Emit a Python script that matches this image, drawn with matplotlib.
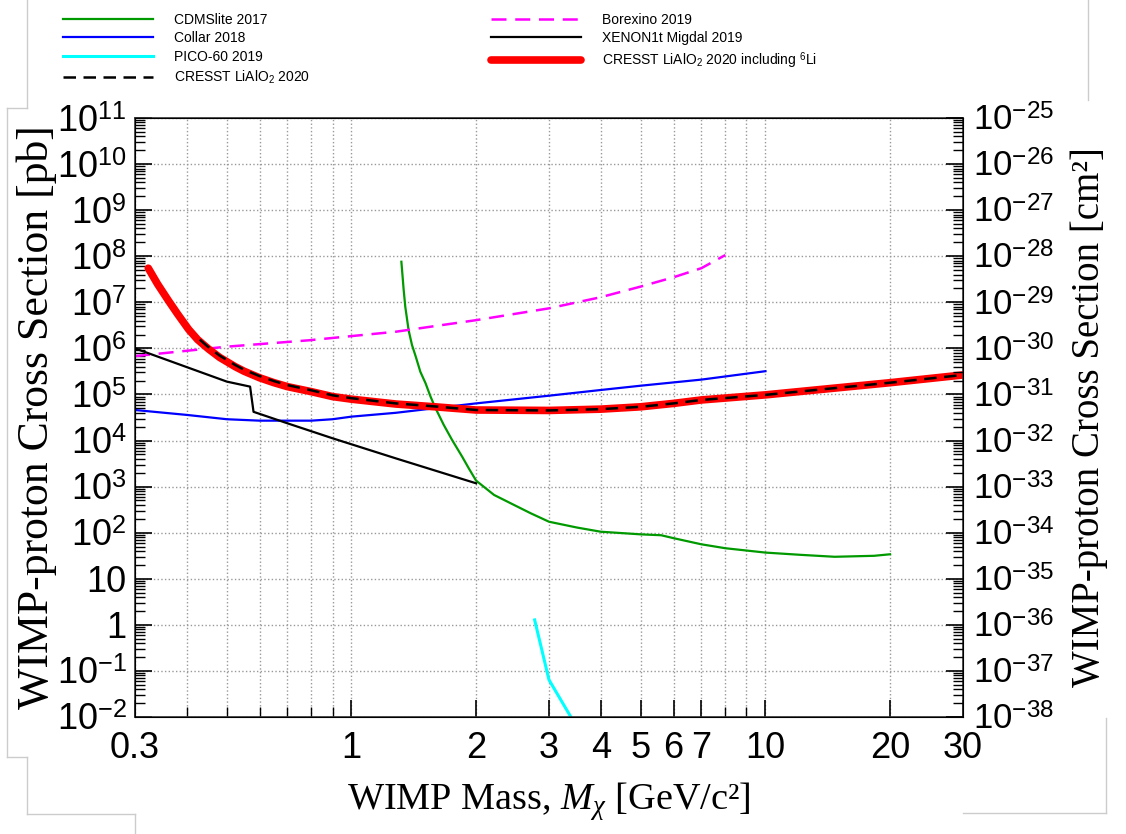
import numpy as np
import matplotlib
matplotlib.use("Agg")
import matplotlib.pyplot as plt
from matplotlib.ticker import FixedLocator, NullFormatter, FuncFormatter
from matplotlib.lines import Line2D

plt.rcParams['font.family'] = ['Liberation Sans', 'DejaVu Sans']
plt.rcParams['mathtext.fontset'] = 'custom'
plt.rcParams['mathtext.rm'] = 'Liberation Sans'
plt.rcParams['mathtext.it'] = 'Liberation Serif:italic'

# WIMP mass [GeV/c^2] and cross section [pb]
cresst_li_x = [0.323, 0.34, 0.361, 0.38, 0.404, 0.425, 0.451, 0.48, 0.524, 0.55, 0.6, 0.65,
               0.7, 0.8, 0.9, 1.0, 1.28, 1.59, 2, 3, 4, 5, 6, 7, 10, 20, 30]
cresst_li_y = [5.5e7, 2.5e7, 1.1e7, 5.6e6, 2.6e6, 1.55e6, 9.8e5, 6.4e5, 4.0e5, 3.2e5, 2.3e5,
               1.8e5, 1.48e5, 1.15e5, 9.0e4, 7.9e4, 6.2e4, 5.4e4, 4.6e4, 4.5e4, 4.8e4, 5.4e4,
               6.4e4, 7.6e4, 9.8e4, 1.8e5, 2.65e5]

cresst_x = [0.43, 0.451, 0.48, 0.524, 0.55, 0.6, 0.65, 0.7, 0.8, 0.9, 1.0, 1.28, 1.59,
            2, 3, 4, 5, 6, 7, 10, 20, 30]
cresst_y = [1.55e6, 1.07e6, 7.0e5, 4.35e5, 3.45e5, 2.5e5, 1.95e5, 1.6e5, 1.23e5, 9.6e4,
            8.3e4, 6.4e4, 5.5e4, 4.6e4, 4.5e4, 4.8e4, 5.4e4, 6.4e4, 7.6e4, 9.8e4, 1.8e5, 2.65e5]

borexino_x = [0.3, 0.5, 0.79, 1.28, 2, 3, 4, 5, 6, 7, 8]
borexino_y = [6.8e5, 1.09e6, 1.5e6, 2.3e6, 4.1e6, 7.4e6, 1.29e7, 2.2e7, 3.5e7, 5.5e7, 1.06e8]

xenon_x = [0.3, 0.5, 0.569, 0.58, 0.7, 0.9, 1.28, 2]
xenon_y = [1.0e6, 1.9e5, 1.48e5, 4.2e4, 2.37e4, 1.12e4, 4.1e3, 1.18e3]

collar_x = [0.3, 0.4, 0.5, 0.6, 0.8, 0.9, 1.0, 1.28, 2, 3, 4, 5, 7, 10]
collar_y = [4.6e4, 3.6e4, 2.9e4, 2.7e4, 2.7e4, 2.9e4, 3.3e4, 4.0e4, 6.4e4, 9.4e4,
            1.25e5, 1.55e5, 2.1e5, 3.2e5]

cdms_x = [1.32, 1.337, 1.349, 1.374, 1.40, 1.43, 1.467, 1.51, 1.55, 1.59, 1.67, 1.75, 1.85,
          1.92, 2, 2.21, 2.47, 2.71, 3, 3.51, 4, 5, 5.6, 6, 7, 8, 9, 10,
          12.2, 14.7, 18.3, 20]
cdms_y = [7.6e7, 1.85e7, 8.0e6, 2.5e6, 1.19e6, 6.6e5, 3.1e5, 1.75e5, 9.3e4, 5.4e4, 2.2e4,
          1.03e4, 4.5e3, 2.5e3, 1.35e3, 660, 400, 264, 173, 129, 105, 92, 88, 76, 56, 46,
          41, 37, 33, 30, 31.5, 34]

pico_x = [2.77, 3.0, 3.4]
pico_y = [1.28, 0.064, 0.0095]

xtick_vals = [0.3, 1, 2, 3, 4, 5, 6, 7, 10, 20, 30]
xtick_labels = ['0.3', '1', '2', '3', '4', '5', '6', '7', '10', '20', '30']
pb_to_cm2 = 1e-36

fig = plt.figure(figsize=(11.26, 8.34), dpi=100)
ax = fig.add_axes([0.1199, 0.1403, 0.7353, 0.7182])

ax.plot(cdms_x, cdms_y, color='#009900', lw=1.6, label='CDMSlite 2017')
ax.plot(collar_x, collar_y, color='#0000ff', lw=1.6, label='Collar 2018')
ax.plot(pico_x, pico_y, color='#00ffff', lw=2.2, label='PICO-60 2019')
ax.plot(borexino_x, borexino_y, color='#ff00ff', lw=1.8, ls=(0, (6, 3.5)), label='Borexino 2019')
ax.plot(xenon_x, xenon_y, color='black', lw=1.6, label='XENON1t Migdal 2019')
ax.plot(cresst_li_x, cresst_li_y, color='#ff0000', lw=5.5, solid_capstyle='round',
        solid_joinstyle='round', label=r'CRESST LiAlO$_2$ 2020 including $^6$Li')
ax.plot(cresst_x, cresst_y, color='black', lw=1.8, ls=(0, (5, 3)), label=r'CRESST LiAlO$_2$ 2020')

ax.set_xscale('log')
ax.set_yscale('log')
ax.set_xlim(0.3, 30)
ax.set_ylim(1e-2, 1e11)

ax.xaxis.set_major_locator(FixedLocator(xtick_vals))
ax.xaxis.set_major_formatter(FuncFormatter(lambda v, p: xtick_labels[xtick_vals.index(v)] if v in xtick_vals else ''))
ax.xaxis.set_minor_locator(FixedLocator([0.4, 0.5, 0.6, 0.7, 0.8, 0.9, 8, 9]))
ax.xaxis.set_minor_formatter(NullFormatter())

def ylab(v, p):
    e = int(round(np.log10(v)))
    if e == 1:
        return '10'
    if e == 0:
        return '1'
    return '10$^{%d}$' % e

ax.yaxis.set_major_locator(FixedLocator([10.0 ** k for k in range(-2, 12)]))
ax.yaxis.set_major_formatter(FuncFormatter(ylab))
ax.yaxis.set_minor_locator(FixedLocator([m * 10.0 ** k for k in range(-2, 11) for m in range(2, 10)]))
ax.yaxis.set_minor_formatter(NullFormatter())

ax.grid(True, which='major', axis='both', color='#999999', ls=':', lw=1.0)
ax.grid(True, which='minor', axis='x', color='#999999', ls=':', lw=1.0)
ax.tick_params(which='major', direction='in', length=12, width=1.2, labelsize=26, pad=6)
ax.tick_params(which='minor', direction='in', length=7, width=1.0)
ax.tick_params(axis='x', which='major', pad=10)
ax.tick_params(axis='y', which='both', right=False)
ax.tick_params(axis='x', which='both', top=False)
for s in ax.spines.values():
    s.set_linewidth(1.2)
    s.set_color('#333333')

ax2 = ax.twinx()
ax2.set_yscale('log')
ax2.set_ylim(1e-2 * pb_to_cm2, 1e11 * pb_to_cm2)
ax2.yaxis.set_major_locator(FixedLocator([10.0 ** k for k in range(-38, -24)]))
ax2.yaxis.set_major_formatter(FuncFormatter(lambda v, p: '10$^{%d}$' % int(round(np.log10(v)))))
ax2.yaxis.set_minor_locator(FixedLocator([m * 10.0 ** k for k in range(-38, -25) for m in range(2, 10)]))
ax2.yaxis.set_minor_formatter(NullFormatter())
ax2.tick_params(which='major', direction='in', length=12, width=1.2, labelsize=25, pad=7)
ax2.tick_params(which='minor', direction='in', length=7, width=1.0)

ax.set_xlabel('WIMP Mass, $M_\\chi$ [GeV/c²]', family='Liberation Serif', fontsize=27.5, labelpad=10)
ax.set_ylabel('WIMP-proton Cross Section [pb]', family='Liberation Serif', fontsize=31.5, labelpad=0)
ax2.set_ylabel('WIMP-proton Cross Section [cm²]', family='Liberation Serif', fontsize=28, labelpad=12)

h, l = ax.get_legend_handles_labels()
order = [0, 1, 2, 6, 3, 4, 5]
fig.legend([h[i] for i in order], [l[i] for i in order], ncol=2, loc='upper left',
           bbox_to_anchor=(0.045, 1.0), frameon=False, fontsize=10,
           handlelength=6.5, columnspacing=13, labelspacing=0.35, handletextpad=1.5)

# light frame remnants around the figure
for xs, ys in [([27, 27], [0, 108]), ([7, 27], [108, 108]), ([7, 7], [108, 757]),
               ([7, 27], [757, 757]), ([27, 27], [757, 814]), ([27, 135], [814, 814]),
               ([135, 135], [814, 834]), ([1088, 1088], [0, 100]),
               ([963, 1106], [813, 813]), ([1106, 1106], [718, 813])]:
    fig.add_artist(Line2D([x / 1126 for x in xs], [1 - y / 834 for y in ys],
                          color='#cccccc', lw=1.0))

fig.savefig('out.png', dpi=100)
